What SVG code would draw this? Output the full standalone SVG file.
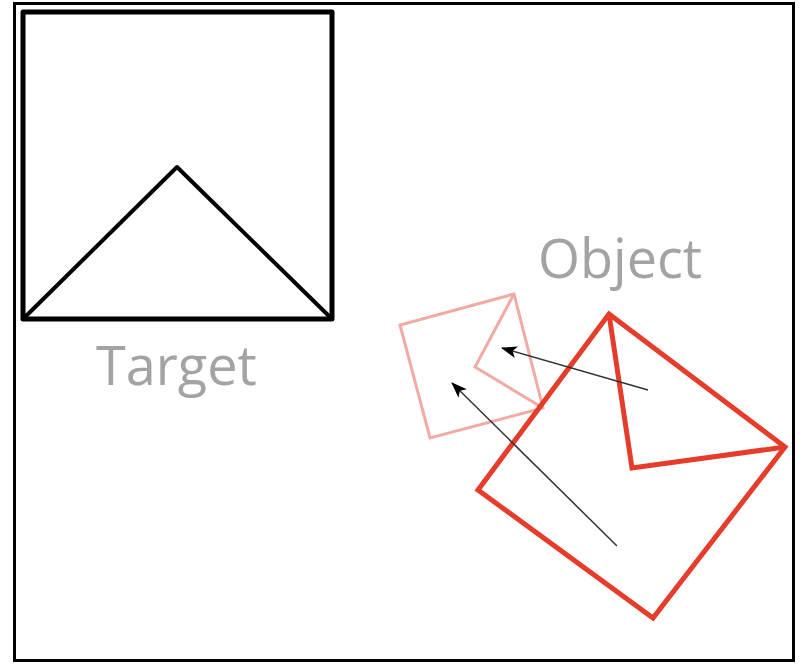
<svg xmlns="http://www.w3.org/2000/svg" width="802" height="664" viewBox="0 0 802 664">
  <style>
    .lbl { font-family: "Open Sans", "DejaVu Sans", sans-serif; font-size: 54px; fill: #a3a3a3; }
    .tgt { fill: none; stroke: #000; stroke-linejoin: round; stroke-linecap: round; }
    .obj { fill: none; stroke: #e53d2a; stroke-width: 5; stroke-linejoin: miter; }
    .ghost { fill: none; stroke: #f2aaa4; stroke-width: 3; }
    .arr { stroke: #333; stroke-width: 1.5; fill: none; marker-end: url(#ah); }
  </style>
  <defs>
    <marker id="ah" viewBox="0 0 16 12" refX="15" refY="6" markerWidth="16" markerHeight="12" markerUnits="userSpaceOnUse" orient="auto">
      <path d="M0,0 L16,6 L0,12 L4,6 Z" fill="#000"/>
    </marker>
  </defs>
  <rect x="0" y="0" width="802" height="664" fill="#fff"/>
  <rect id="frame" x="14.5" y="3.5" width="779" height="657" fill="none" stroke="#000" stroke-width="3"/>
  <g id="target">
    <rect class="tgt" x="23" y="12" width="309" height="307" stroke-width="5"/>
    <polyline class="tgt" points="23,319 177,167 332,319" stroke-width="4"/>
    <text class="lbl" x="96" y="385">Target</text>
  </g>
  <g id="ghost">
    <polygon class="ghost" points="514,294 400,325 430,438 543,408"/>
    <polyline class="ghost" points="514,294 475,367 543,408"/>
  </g>
  <g id="object">
    <polygon class="obj" points="609,314 785,447 653,618 478,490"/>
    <polyline class="obj" points="609,314 632,468 785,447"/>
    <text class="lbl" x="538" y="278">Object</text>
  </g>
  <g id="connectors">
    <line class="arr" x1="648" y1="390" x2="502" y2="348"/>
    <line class="arr" x1="617" y1="546" x2="452" y2="383"/>
  </g>
</svg>
